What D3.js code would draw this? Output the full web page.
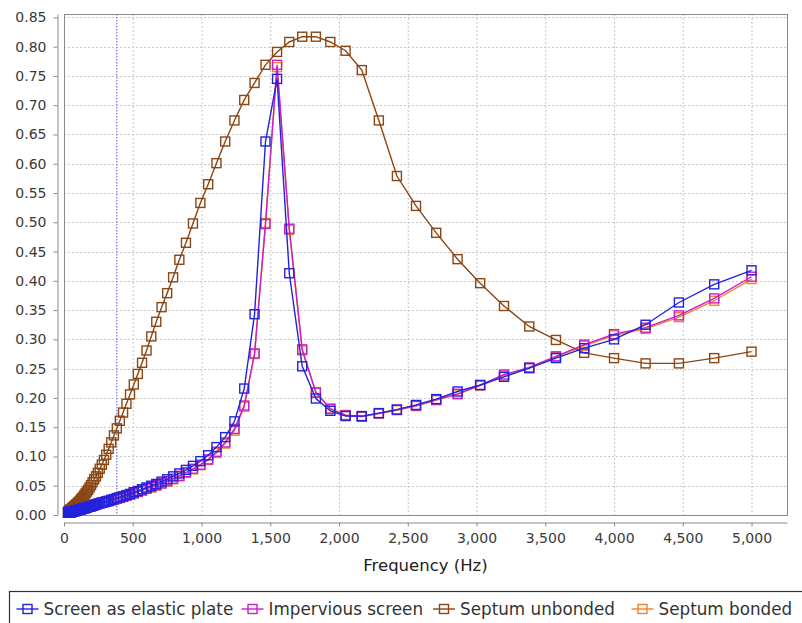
<!DOCTYPE html>
<html>
<head>
<meta charset="utf-8">
<script src="https://cdn.jsdelivr.net/npm/d3@7"></script>
<style>
  html, body { margin: 0; padding: 0; background: #fff; }
  svg { display: block; }
  text { font-family: "DejaVu Sans", Verdana, sans-serif; }
</style>
</head>
<body>
<svg id="chart" width="802" height="623"></svg>
<script>
// ---- data ----
const frequencies = [29.5, 31.2, 33.0, 34.9, 36.9, 39.0, 41.3, 43.6, 46.1, 48.8, 51.6, 54.5, 57.6, 61.0, 64.5, 68.1, 72.1, 76.2, 80.6, 85.2, 90.1, 95.2, 100.7, 106.5, 112.6, 119.1, 125.9, 133.1, 140.7, 148.8, 157.4, 166.4, 175.9, 186.0, 196.7, 208.0, 219.9, 232.5, 245.9, 260.0, 274.9, 290.6, 307.3, 325.0, 343.6, 363.3, 384.2, 406.2, 429.5, 454.2, 480.2, 507.7, 536.9, 567.7, 600.2, 634.7, 671.1, 709.6, 750.3, 793.4, 838.9, 887.0, 937.9, 991.7, 1048.6, 1108.7, 1172.3, 1239.6, 1310.7, 1385.9, 1465.4, 1549.5, 1638.4, 1732.4, 1831.8, 1936.9, 2048, 2165.5, 2289.8, 2421.1, 2560, 2706.9, 2862.2, 3026.4, 3200, 3383.6, 3577.7, 3783, 4000, 4229.5, 4472.1, 4728.7, 5000];

const screenElasticPlate = [0.004, 0.004, 0.004, 0.004, 0.005, 0.005, 0.005, 0.005, 0.005, 0.005, 0.005, 0.006, 0.006, 0.006, 0.006, 0.006, 0.007, 0.007, 0.007, 0.007, 0.008, 0.008, 0.008, 0.009, 0.009, 0.010, 0.010, 0.011, 0.011, 0.012, 0.012, 0.013, 0.014, 0.014, 0.015, 0.016, 0.017, 0.018, 0.019, 0.020, 0.021, 0.022, 0.023, 0.024, 0.026, 0.027, 0.029, 0.030, 0.032, 0.034, 0.036, 0.039, 0.041, 0.044, 0.047, 0.050, 0.053, 0.057, 0.061, 0.066, 0.071, 0.077, 0.084, 0.092, 0.102, 0.116, 0.133, 0.160, 0.216, 0.343, 0.638, 0.745, 0.413, 0.254, 0.199, 0.178, 0.169, 0.169, 0.174, 0.180, 0.188, 0.198, 0.211, 0.222, 0.236, 0.251, 0.268, 0.285, 0.300, 0.325, 0.363, 0.394, 0.418];

const imperviousScreen = [0.004, 0.004, 0.004, 0.004, 0.005, 0.005, 0.005, 0.005, 0.005, 0.005, 0.005, 0.006, 0.006, 0.006, 0.006, 0.006, 0.007, 0.007, 0.007, 0.007, 0.008, 0.008, 0.008, 0.009, 0.009, 0.010, 0.010, 0.011, 0.011, 0.012, 0.012, 0.013, 0.014, 0.014, 0.015, 0.016, 0.017, 0.018, 0.019, 0.020, 0.021, 0.022, 0.023, 0.024, 0.025, 0.027, 0.028, 0.030, 0.031, 0.033, 0.035, 0.037, 0.040, 0.042, 0.045, 0.048, 0.051, 0.054, 0.058, 0.062, 0.067, 0.073, 0.079, 0.086, 0.095, 0.108, 0.124, 0.147, 0.187, 0.276, 0.497, 0.769, 0.489, 0.283, 0.209, 0.181, 0.170, 0.168, 0.174, 0.180, 0.187, 0.197, 0.207, 0.222, 0.240, 0.252, 0.271, 0.291, 0.309, 0.320, 0.341, 0.370, 0.407];

const septumUnbonded = [0.005, 0.005, 0.006, 0.006, 0.007, 0.007, 0.008, 0.008, 0.009, 0.009, 0.010, 0.010, 0.011, 0.012, 0.012, 0.013, 0.014, 0.015, 0.016, 0.017, 0.018, 0.019, 0.020, 0.022, 0.023, 0.025, 0.027, 0.029, 0.031, 0.034, 0.037, 0.040, 0.043, 0.047, 0.051, 0.056, 0.061, 0.066, 0.072, 0.079, 0.086, 0.094, 0.103, 0.113, 0.124, 0.136, 0.148, 0.161, 0.175, 0.190, 0.206, 0.223, 0.241, 0.260, 0.281, 0.305, 0.330, 0.355, 0.379, 0.406, 0.436, 0.465, 0.498, 0.533, 0.565, 0.601, 0.638, 0.674, 0.709, 0.738, 0.769, 0.791, 0.808, 0.817, 0.817, 0.808, 0.793, 0.760, 0.674, 0.579, 0.528, 0.482, 0.437, 0.396, 0.357, 0.322, 0.299, 0.277, 0.268, 0.259, 0.259, 0.268, 0.279];

const septumBonded = [0.004, 0.004, 0.004, 0.004, 0.005, 0.005, 0.005, 0.005, 0.005, 0.005, 0.005, 0.006, 0.006, 0.006, 0.006, 0.006, 0.007, 0.007, 0.007, 0.007, 0.008, 0.008, 0.008, 0.009, 0.009, 0.010, 0.010, 0.011, 0.011, 0.012, 0.012, 0.013, 0.014, 0.014, 0.015, 0.016, 0.017, 0.018, 0.019, 0.020, 0.021, 0.022, 0.023, 0.024, 0.025, 0.026, 0.028, 0.029, 0.031, 0.033, 0.035, 0.037, 0.039, 0.042, 0.045, 0.047, 0.050, 0.054, 0.057, 0.061, 0.066, 0.072, 0.078, 0.085, 0.094, 0.106, 0.122, 0.144, 0.185, 0.275, 0.499, 0.765, 0.487, 0.281, 0.210, 0.182, 0.171, 0.168, 0.173, 0.179, 0.186, 0.196, 0.206, 0.221, 0.238, 0.251, 0.270, 0.289, 0.307, 0.318, 0.338, 0.366, 0.403];

const seriesNames = ["Screen as elastic plate", "Impervious screen", "Septum unbonded", "Septum bonded"];
const seriesColors = ["#2323dd", "#c81ec8", "#8a4614", "#f08228"];
const seriesValues = [screenElasticPlate, imperviousScreen, septumUnbonded, septumBonded];

const xTicks = [0, 500, 1000, 1500, 2000, 2500, 3000, 3500, 4000, 4500, 5000];
const yTicks = [0, 0.05, 0.10, 0.15, 0.20, 0.25, 0.30, 0.35, 0.40, 0.45, 0.50, 0.55, 0.60, 0.65, 0.70, 0.75, 0.80, 0.85];
const xDomain = [0, 5258];
const yDomain = [0, 0.8558];
const markerFrequency = 384.2;
const xTitle = "Frequency (Hz)";

// ---- layout ----
const svg = d3.select("#chart");
const plot = { left: 64, top: 14, right: 787, bottom: 515 };

const x = d3.scaleLinear().domain(xDomain).range([plot.left, plot.right]);
const y = d3.scaleLinear().domain(yDomain).range([plot.bottom, plot.top]);

svg.append("rect").attr("width", 802).attr("height", 623).attr("fill", "#fff");

// gridlines
const grid = svg.append("g");
grid.selectAll("line.v").data(xTicks).join("line")
  .attr("x1", d => x(d) + 0.5).attr("x2", d => x(d) + 0.5)
  .attr("y1", plot.top).attr("y2", plot.bottom)
  .attr("stroke", "#c8c8c8").attr("stroke-width", 1).attr("stroke-dasharray", "2,2");
grid.selectAll("line.h").data(yTicks).join("line")
  .attr("x1", plot.left).attr("x2", plot.right)
  .attr("y1", d => Math.round(y(d)) + 0.5).attr("y2", d => Math.round(y(d)) + 0.5)
  .attr("stroke", "#c8c8c8").attr("stroke-width", 1).attr("stroke-dasharray", "2,2");

// marker line
svg.append("line")
  .attr("x1", x(markerFrequency)).attr("x2", x(markerFrequency))
  .attr("y1", plot.top).attr("y2", plot.bottom)
  .attr("stroke", "#5a5ae0").attr("stroke-width", 1).attr("stroke-dasharray", "1.5,1.5");

// plot border
svg.append("rect")
  .attr("x", plot.left + 0.5).attr("y", plot.top + 0.5)
  .attr("width", plot.right - plot.left).attr("height", plot.bottom - plot.top)
  .attr("fill", "none").attr("stroke", "#8a8a8a").attr("stroke-width", 1);

// series (drawn in reverse order so first series is on top)
svg.append("defs").append("clipPath").attr("id", "clip")
  .append("rect").attr("x", plot.left - 6).attr("y", plot.top - 6)
  .attr("width", plot.right - plot.left + 12).attr("height", plot.bottom - plot.top + 12);

const line = d3.line().x(d => x(d[0])).y(d => y(d[1]));
const ms = 9;
for (let s = seriesValues.length - 1; s >= 0; s--) {
  const pts = frequencies.map((f, i) => [f, seriesValues[s][i]]);
  const g = svg.append("g").attr("clip-path", "url(#clip)");
  g.append("path").datum(pts)
    .attr("d", line).attr("fill", "none")
    .attr("stroke", seriesColors[s]).attr("stroke-width", 1.4);
  g.selectAll("rect").data(pts).join("rect")
    .attr("x", d => x(d[0]) - ms / 2).attr("y", d => y(d[1]) - ms / 2)
    .attr("width", ms).attr("height", ms)
    .attr("fill", "none").attr("stroke", seriesColors[s]).attr("stroke-width", 1.4);
}

// axes
const xAxis = d3.axisBottom(x).tickValues(xTicks).tickFormat(d3.format(","))
  .tickSizeInner(4).tickSizeOuter(0).tickPadding(7);
const gx = svg.append("g").attr("transform", "translate(0,522.5)").call(xAxis);
gx.select(".domain").attr("stroke", "#8a8a8a");
gx.selectAll(".tick line").attr("stroke", "#8a8a8a");
gx.selectAll(".tick text").attr("font-size", 14).attr("fill", "#3a3a3a")
  .attr("font-family", "DejaVu Sans, Verdana, sans-serif");

const yAxis = d3.axisLeft(y).tickValues(yTicks).tickFormat(d3.format(".2f"))
  .tickSizeInner(4).tickSizeOuter(0).tickPadding(7);
const gy = svg.append("g").attr("transform", "translate(57.5,0)").call(yAxis);
gy.select(".domain").attr("stroke", "#8a8a8a");
gy.selectAll(".tick line").attr("stroke", "#8a8a8a");
gy.selectAll(".tick text").attr("font-size", 14).attr("fill", "#3a3a3a")
  .attr("font-family", "DejaVu Sans, Verdana, sans-serif");

// axis title
svg.append("text")
  .attr("x", (plot.left + plot.right) / 2).attr("y", 571)
  .attr("text-anchor", "middle").attr("font-size", 16.5).attr("fill", "#222")
  .text(xTitle);

// legend
const legend = svg.append("g");
legend.append("rect").attr("x", 9.5).attr("y", 591.5).attr("width", 800).attr("height", 50)
  .attr("fill", "#fff").attr("stroke", "#333").attr("stroke-width", 1.2);
const legendX = [16.5, 241.5, 433, 631.5];
const ly = 609;
seriesNames.forEach((name, i) => {
  const gx0 = legendX[i];
  const item = legend.append("g");
  item.append("line").attr("x1", gx0).attr("x2", gx0 + 22).attr("y1", ly).attr("y2", ly)
    .attr("stroke", seriesColors[i]).attr("stroke-width", 1.4);
  item.append("rect").attr("x", gx0 + 11 - 4.5).attr("y", ly - 4.5).attr("width", 9).attr("height", 9)
    .attr("fill", "none").attr("stroke", seriesColors[i]).attr("stroke-width", 1.4);
  item.append("text").attr("x", gx0 + 27).attr("y", ly + 6)
    .attr("font-size", 16.8).attr("fill", "#333").text(name);
});
</script>
</body>
</html>
